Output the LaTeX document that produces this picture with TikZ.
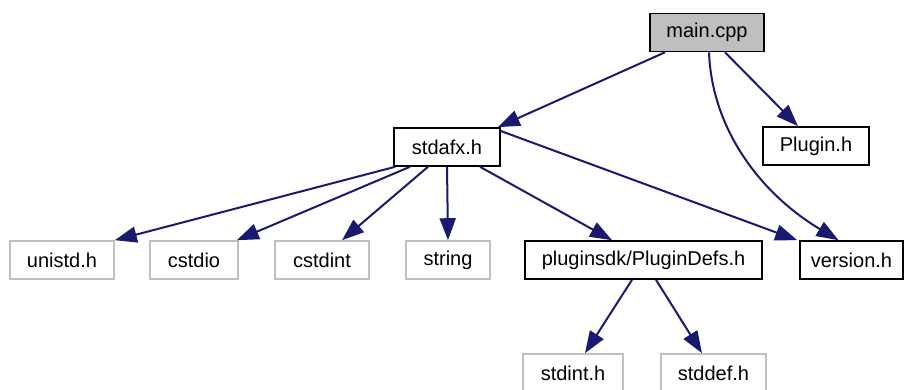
\documentclass[tikz,border=0pt]{standalone}
\usepackage{fontspec}
\setmainfont{Liberation Sans}
\usetikzlibrary{arrows.meta,calc}
\definecolor{edgeblue}{HTML}{191970}
\definecolor{lightgrayborder}{HTML}{BFBFBF}
\definecolor{mainfill}{HTML}{BFBFBF}
\tikzset{
  box/.style={draw=black, line width=1.6pt, inner sep=0pt, minimum height=38pt, font=\fontsize{20}{24}\selectfont, text=black},
  gbox/.style={box, draw=lightgrayborder},
  edge/.style={draw=edgeblue, line width=2pt, -{Triangle[length=22pt,width=16pt]}},
}
\begin{document}
\begin{tikzpicture}[x=1pt,y=-1pt]
\useasboundingbox (0,0) rectangle (904,390);
\node[box, fill=mainfill, minimum width=114pt] (main) at (707,32.5) {main.cpp};
\node[box, minimum width=106pt] (stdafx) at (447,147) {stdafx.h};
\node[box, minimum width=106pt] (plugin) at (816,146) {Plugin.h};
\node[gbox, minimum width=104pt] (unistd) at (62,260) {unistd.h};
\node[gbox, minimum width=88pt] (cstdio) at (194,260) {cstdio};
\node[gbox, minimum width=94pt] (cstdint) at (322,260) {cstdint};
\node[gbox, minimum width=84pt] (string) at (448,260) {string};
\node[box, minimum width=237pt] (defs) at (643.5,260) {pluginsdk/PluginDefs.h};
\node[box, minimum width=103pt] (version) at (851.5,260) {version.h};
\node[gbox, minimum width=100pt] (stdint) at (573,373) {stdint.h};
\node[gbox, minimum width=105pt] (stddef) at (713.5,373) {stddef.h};

\draw[edge] ([xshift=-42pt]main.south) -- ([xshift=-3pt]stdafx.north east);
\draw[edge] ([xshift=18pt]main.south) -- ([xshift=-18pt]plugin.north);
\draw[edge] ([xshift=2pt]main.south) .. controls ($(main.south)+(5,78)$) and ($(version.north)+(-90,-46)$) .. ([xshift=-13pt]version.north);
\draw[edge] ([xshift=2pt]stdafx.south west) -- (unistd.north east);
\draw[edge] ([xshift=-37pt]stdafx.south) -- ([xshift=-2pt]cstdio.north east);
\draw[edge] ([xshift=-19pt]stdafx.south) -- ([xshift=20pt]cstdint.north);
\draw[edge] (stdafx.south) -- (string.north);
\draw[edge] ([xshift=33pt]stdafx.south) -- ([xshift=-31.5pt]defs.north);
\draw[edge] ([yshift=16pt]stdafx.east) -- ([xshift=-2pt]version.north west);
\draw[edge] ([xshift=-11.5pt]defs.south) -- ([xshift=12pt]stdint.north);
\draw[edge] ([xshift=12.5pt]defs.south) -- ([xshift=-11.5pt]stddef.north);
\end{tikzpicture}
\end{document}
